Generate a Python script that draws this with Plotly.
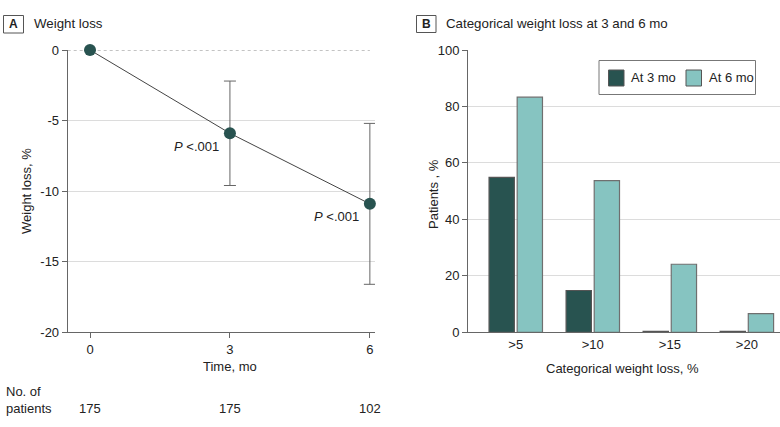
import plotly.graph_objects as go

W, H = 780, 427

# ---- Panel A data ----
time_mo = [0, 3, 6]
weight_loss = [0.0, -5.9, -10.9]
err_plus = [0.0, 3.7, 5.7]     # upper bar length
err_minus = [0.0, 3.7, 5.7]    # lower bar length
n_patients = ["175", "175", "102"]
p_labels = ["", "<i>P</i> <.001", "<i>P</i> <.001"]
a_yticks = [0, -5, -10, -15, -20]
a_yticklabels = ["0", "-5", "-10", "-15", "-20"]

# ---- Panel B data ----
categories = [">5", ">10", ">15", ">20"]
series_names = ["At 3 mo", "At 6 mo"]
at_3mo = [54.9, 14.8, 0.3, 0.3]
at_6mo = [83.3, 53.7, 24.1, 6.6]
b_yticks = [0, 20, 40, 60, 80, 100]

DARK = "#285350"
LIGHT = "#86c4c1"
AX = "#666666"
GRID = "#dcdcdc"
TXT = "#222222"
FONT = "Liberation Sans, Arial, sans-serif"

def px_x(p):
    return p / W

def px_y(p):
    return 1 - p / H

fig = go.Figure()

fig.add_trace(go.Scatter(
    x=time_mo, y=weight_loss, mode="lines+markers",
    line=dict(color="#444444", width=1),
    marker=dict(color=DARK, size=12),
    error_y=dict(type="data", array=err_plus, arrayminus=err_minus,
                 color="#666666", thickness=1, width=6),
    cliponaxis=False, showlegend=False, xaxis="x", yaxis="y",
))

bar_colors = [DARK, LIGHT]
bar_lines = ["#555555", "#6f6f6f"]
for name, vals, col, lc in zip(series_names, [at_3mo, at_6mo], bar_colors, bar_lines):
    fig.add_trace(go.Bar(
        x=categories, y=vals, name=name,
        marker=dict(color=col, line=dict(color=lc, width=1.2)),
        xaxis="x2", yaxis="y2", showlegend=False,
    ))

ytop, ybot = 50, 332.3
ydom = [px_y(ybot), px_y(ytop)]
tickfont = dict(family=FONT, size=13, color=TXT)

fig.update_layout(
    width=W, height=H, autosize=False,
    margin=dict(l=0, r=0, t=0, b=0),
    paper_bgcolor="white", plot_bgcolor="white",
    font=dict(family=FONT, size=13, color=TXT),
    barmode="group", bargap=0.27, bargroupgap=0.1,
    showlegend=False,
    xaxis=dict(domain=[px_x(67.7), px_x(375)], range=[-0.478, 6.11],
               tickvals=time_mo, ticktext=[str(t) for t in time_mo],
               ticks="outside", ticklen=5, tickcolor=AX,
               showline=True, linecolor=AX, linewidth=1,
               showgrid=False, zeroline=False, tickfont=tickfont,
               anchor="y", automargin=False),
    yaxis=dict(domain=ydom, range=[-20, 0],
               tickvals=a_yticks, ticktext=a_yticklabels,
               ticks="outside", ticklen=5, tickcolor=AX,
               showline=True, linecolor=AX, linewidth=1,
               showgrid=True, gridcolor=GRID, gridwidth=1,
               zeroline=True, zerolinecolor="white", zerolinewidth=1,
               tickfont=tickfont, anchor="x", automargin=False),
    xaxis2=dict(domain=[px_x(468), 1.0], range=[-0.62, 3.43],
                type="category", ticks="", showline=True, linecolor=AX,
                linewidth=1, showgrid=False, zeroline=False,
                tickfont=tickfont, anchor="y2", automargin=False),
    yaxis2=dict(domain=ydom, range=[0, 100],
                tickvals=b_yticks,
                ticks="outside", ticklen=5, tickcolor=AX,
                showline=True, linecolor=AX, linewidth=1,
                showgrid=True, gridcolor=GRID, gridwidth=1,
                zeroline=False, tickfont=tickfont, anchor="x2",
                automargin=False),
)

# dotted reference line at 0 in panel A
fig.add_shape(type="line", xref="x", yref="y", x0=-0.478, x1=6, y0=0, y1=0,
              line=dict(color="#888888", width=1, dash="dot"), layer="between")

# legend box for panel B (drawn in pixel layout)
fig.add_shape(type="rect", xref="paper", yref="paper",
              x0=px_x(599), x1=px_x(755.5), y0=px_y(94.5), y1=px_y(60.5),
              line=dict(color="#777777", width=1), fillcolor="white")
for (sx, tx), name, col in zip([(608.5, 629), (686, 706.5)], series_names, bar_colors):
    fig.add_shape(type="rect", xref="paper", yref="paper",
                  x0=px_x(sx), x1=px_x(sx + 15.5), y0=px_y(86), y1=px_y(70),
                  line=dict(color="#555555", width=1), fillcolor=col)
    fig.add_annotation(xref="paper", yref="paper", x=px_x(tx), y=px_y(78),
                       text=name, showarrow=False, xanchor="left",
                       yanchor="middle",
                       font=dict(family=FONT, size=13, color=TXT))

# panel label boxes
for (x0, x1, y0, y1, letter, tx, title) in [
    (3.5, 23.5, 15.5, 33, "A", 31.5, "Weight loss"),
    (416.5, 436, 15.5, 32.5, "B", 444, "Categorical weight loss at 3 and 6 mo"),
]:
    fig.add_shape(type="rect", xref="paper", yref="paper",
                  x0=px_x(x0), x1=px_x(x1), y0=px_y(y1), y1=px_y(y0),
                  line=dict(color="#555555", width=1), fillcolor="white")
    fig.add_annotation(xref="paper", yref="paper", x=px_x((x0 + x1) / 2),
                       y=px_y((y0 + y1) / 2), text="<b>%s</b>" % letter,
                       showarrow=False, xanchor="center", yanchor="middle",
                       font=dict(family=FONT, size=12, color=TXT))
    fig.add_annotation(xref="paper", yref="paper", x=px_x(tx),
                       y=px_y(24), text=title, showarrow=False,
                       xanchor="left", yanchor="middle",
                       font=dict(family=FONT, size=13.3, color=TXT))

# axis titles
fig.add_annotation(xref="paper", yref="paper", x=px_x(26), y=px_y(191),
                   text="Weight loss, %", textangle=-90, showarrow=False,
                   xanchor="center", yanchor="middle",
                   font=dict(family=FONT, size=13, color=TXT))
fig.add_annotation(xref="paper", yref="paper", x=px_x(230), y=px_y(366),
                   text="Time, mo", showarrow=False,
                   xanchor="center", yanchor="middle",
                   font=dict(family=FONT, size=13, color=TXT))
fig.add_annotation(xref="paper", yref="paper", x=px_x(433), y=px_y(194),
                   text="Patients , %", textangle=-90, showarrow=False,
                   xanchor="center", yanchor="middle",
                   font=dict(family=FONT, size=13, color=TXT))
fig.add_annotation(xref="paper", yref="paper", x=px_x(622), y=px_y(368),
                   text="Categorical weight loss, %", showarrow=False,
                   xanchor="center", yanchor="middle",
                   font=dict(family=FONT, size=13, color=TXT))

# number at risk
fig.add_annotation(xref="paper", yref="paper", x=px_x(4), y=px_y(400),
                   text="No. of<br>patients", showarrow=False, align="left",
                   xanchor="left", yanchor="middle",
                   font=dict(family=FONT, size=13, color=TXT))
for t, n in zip(time_mo, n_patients):
    fig.add_annotation(xref="x", yref="paper", x=t, y=px_y(408.5),
                       text=n, showarrow=False, xanchor="center",
                       yanchor="middle",
                       font=dict(family=FONT, size=13, color=TXT))

# P-value labels
for t, v, lab in zip(time_mo, weight_loss, p_labels):
    if lab:
        fig.add_annotation(xref="x", yref="y", x=t, y=v, text=lab,
                           showarrow=False, xanchor="right", yanchor="middle",
                           xshift=-9, yshift=-13,
                           font=dict(family=FONT, size=13, color=TXT))

fig.write_html("out.html",
               config={"displayModeBar": False},
               post_script="document.body.style.margin='0px';")
